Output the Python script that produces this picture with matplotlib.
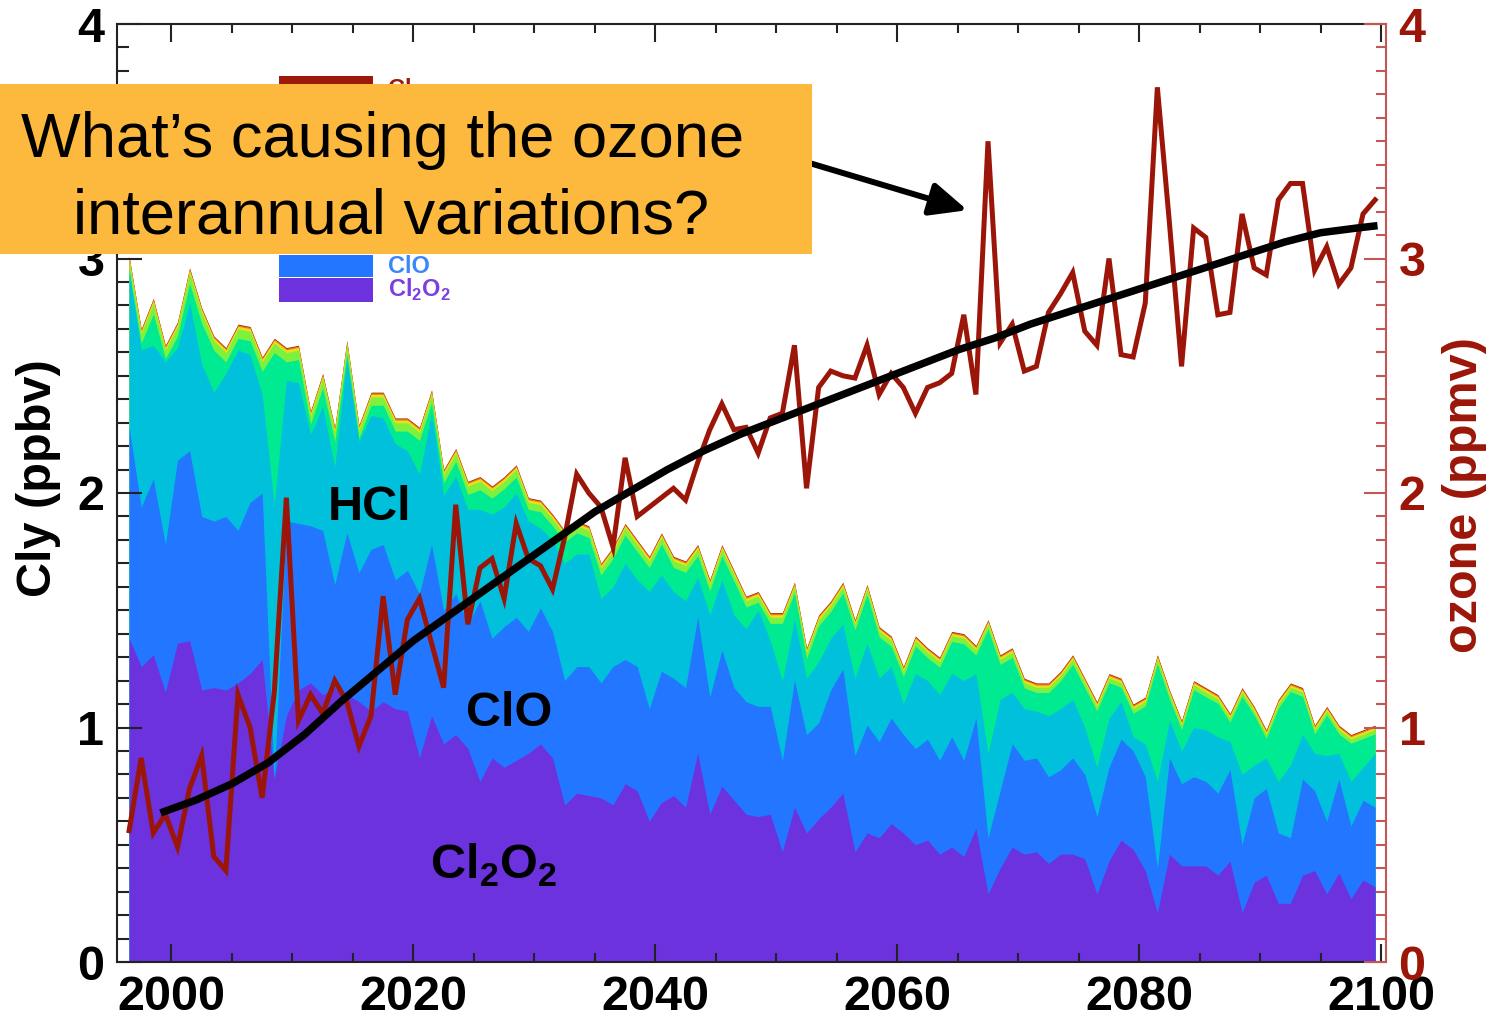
import numpy as np
import matplotlib
matplotlib.use('Agg')
import matplotlib.pyplot as plt
from matplotlib.patches import Rectangle
from matplotlib.ticker import MultipleLocator

plt.rcParams['font.family'] = ['Liberation Sans', 'DejaVu Sans']
plt.rcParams['mathtext.fontset'] = 'custom'
plt.rcParams['mathtext.rm'] = 'Liberation Sans'
plt.rcParams['mathtext.bf'] = 'Liberation Sans:bold'

# annual means, 1996.5 ... 2099.5
years = np.arange(1996.5, 2100.0, 1.0)

# ozone (ppmv)
ozone = [0.56, 0.87, 0.55, 0.63, 0.49, 0.74, 0.88, 0.45, 0.39, 1.14,
         1.00, 0.70, 1.15, 1.98, 1.03, 1.14, 1.06, 1.20, 1.11, 0.92,
         1.05, 1.56, 1.14, 1.46, 1.55, 1.36, 1.17, 1.95, 1.44, 1.68,
         1.72, 1.55, 1.87, 1.72, 1.69, 1.59, 1.81, 2.08, 2.00, 1.94,
         1.77, 2.15, 1.90, 1.94, 1.98, 2.02, 1.97, 2.13, 2.27, 2.38,
         2.27, 2.28, 2.17, 2.32, 2.34, 2.63, 2.02, 2.45, 2.52, 2.50,
         2.49, 2.63, 2.42, 2.51, 2.45, 2.34, 2.45, 2.47, 2.51, 2.76,
         2.42, 3.50, 2.64, 2.72, 2.52, 2.54, 2.77, 2.85, 2.94, 2.69,
         2.63, 3.00, 2.59, 2.58, 2.81, 3.73, 3.15, 2.54, 3.13, 3.09,
         2.76, 2.77, 3.19, 2.96, 2.93, 3.25, 3.32, 3.32, 2.95, 3.05,
         2.89, 2.96, 3.19, 3.25]

# smoothed ozone trend
trend_years = [1999.1, 2002, 2005, 2008, 2011, 2014, 2017, 2020, 2023, 2026,
               2029, 2032, 2035, 2038, 2041, 2044, 2047, 2050, 2053, 2056,
               2059, 2062, 2065, 2068, 2071, 2074, 2077, 2080, 2083, 2086,
               2089, 2092, 2095, 2098, 2099.7]
trend = [0.636, 0.69, 0.76, 0.85, 0.97, 1.11, 1.24, 1.37, 1.48, 1.59,
         1.70, 1.81, 1.92, 2.01, 2.10, 2.18, 2.25, 2.31, 2.37, 2.43,
         2.49, 2.55, 2.61, 2.66, 2.72, 2.77, 2.82, 2.87, 2.92, 2.97,
         3.02, 3.07, 3.11, 3.13, 3.14]

# cumulative Cly (ppbv): top of Cl2O2, ClO, HCl and total Cly
top_cl2o2 = [1.38, 1.26, 1.31, 1.15, 1.36, 1.37, 1.16, 1.17, 1.16, 1.19,
             1.23, 1.29, 0.78, 1.05, 1.16, 1.19, 1.14, 1.17, 1.14, 1.11,
             1.07, 1.11, 1.08, 1.07, 0.87, 1.05, 0.93, 0.97, 0.91, 0.77,
             0.87, 0.83, 0.86, 0.89, 0.93, 0.87, 0.67, 0.72, 0.71, 0.70,
             0.67, 0.76, 0.73, 0.60, 0.68, 0.71, 0.66, 0.89, 0.63, 0.75,
             0.69, 0.63, 0.62, 0.63, 0.47, 0.66, 0.55, 0.61, 0.66, 0.72,
             0.47, 0.55, 0.53, 0.59, 0.55, 0.50, 0.52, 0.46, 0.49, 0.45,
             0.57, 0.29, 0.40, 0.49, 0.46, 0.47, 0.42, 0.46, 0.46, 0.44,
             0.29, 0.43, 0.52, 0.48, 0.39, 0.21, 0.46, 0.41, 0.41, 0.41,
             0.37, 0.43, 0.21, 0.34, 0.37, 0.25, 0.25, 0.37, 0.39, 0.29,
             0.38, 0.27, 0.35, 0.32]
top_clo = [2.28, 1.94, 2.06, 1.78, 2.14, 2.18, 1.90, 1.88, 1.90, 1.84,
           1.96, 2.00, 0.78, 1.88, 1.87, 1.86, 1.84, 1.61, 1.83, 1.66,
           1.76, 1.78, 1.63, 1.67, 1.57, 1.78, 1.50, 1.57, 1.44, 1.54,
           1.38, 1.43, 1.47, 1.41, 1.51, 1.41, 1.20, 1.26, 1.26, 1.19,
           1.26, 1.29, 1.26, 1.08, 1.24, 1.21, 1.17, 1.47, 1.13, 1.33,
           1.17, 1.11, 1.09, 1.09, 0.86, 1.20, 0.97, 1.02, 1.16, 1.25,
           0.88, 1.01, 0.94, 1.04, 0.97, 0.91, 0.95, 0.86, 0.96, 0.86,
           1.04, 0.53, 0.73, 0.93, 0.86, 0.87, 0.79, 0.82, 0.87, 0.80,
           0.62, 0.83, 0.95, 0.90, 0.79, 0.40, 0.87, 0.76, 0.79, 0.77,
           0.72, 0.82, 0.50, 0.70, 0.74, 0.55, 0.53, 0.78, 0.73, 0.60,
           0.78, 0.58, 0.69, 0.66]
top_hcl = [2.94, 2.61, 2.63, 2.56, 2.62, 2.81, 2.55, 2.43, 2.51, 2.61,
           2.59, 2.42, 1.95, 2.48, 2.47, 2.25, 2.37, 2.11, 2.57, 2.22,
           2.33, 2.32, 2.21, 2.18, 2.08, 2.34, 1.99, 2.07, 1.93, 1.93,
           1.91, 1.94, 2.00, 1.88, 1.85, 1.80, 1.70, 1.74, 1.74, 1.55,
           1.60, 1.70, 1.63, 1.58, 1.65, 1.58, 1.54, 1.64, 1.48, 1.63,
           1.48, 1.42, 1.50, 1.37, 1.20, 1.46, 1.21, 1.28, 1.38, 1.44,
           1.21, 1.36, 1.21, 1.26, 1.10, 1.23, 1.20, 1.14, 1.23, 1.20,
           1.23, 0.89, 1.12, 1.15, 1.08, 1.07, 1.05, 1.08, 1.12, 1.00,
           0.83, 1.04, 1.11, 0.96, 0.93, 0.77, 1.03, 0.90, 1.00, 0.99,
           0.96, 0.94, 0.80, 0.84, 0.87, 0.77, 0.84, 0.97, 0.89, 0.88,
           0.89, 0.77, 0.83, 0.89]
cly_total = [3.01, 2.70, 2.83, 2.63, 2.73, 2.96, 2.79, 2.67, 2.62, 2.72,
             2.71, 2.58, 2.66, 2.62, 2.63, 2.35, 2.51, 2.28, 2.65, 2.29,
             2.43, 2.43, 2.32, 2.32, 2.28, 2.44, 2.10, 2.19, 2.05, 2.07,
             2.03, 2.07, 2.12, 1.98, 1.97, 1.91, 1.84, 1.88, 1.86, 1.70,
             1.77, 1.87, 1.80, 1.73, 1.83, 1.73, 1.71, 1.78, 1.63, 1.78,
             1.67, 1.56, 1.58, 1.49, 1.49, 1.62, 1.34, 1.48, 1.54, 1.62,
             1.46, 1.61, 1.43, 1.39, 1.26, 1.39, 1.34, 1.30, 1.41, 1.40,
             1.35, 1.46, 1.31, 1.34, 1.21, 1.19, 1.19, 1.24, 1.31, 1.21,
             1.11, 1.23, 1.21, 1.10, 1.13, 1.31, 1.16, 1.03, 1.20, 1.17,
             1.14, 1.06, 1.17, 1.09, 0.99, 1.12, 1.19, 1.17, 1.01, 1.09,
             1.01, 0.97, 0.99, 1.01]

# minor species (ppbv) sitting on top of ClONO2
hocl = [0.035, 0.040, 0.045, 0.035, 0.040, 0.045, 0.045, 0.040, 0.040, 0.040,
        0.040, 0.040, 0.040, 0.040, 0.040, 0.035, 0.040, 0.040, 0.035, 0.035,
        0.035, 0.035, 0.035, 0.035, 0.035, 0.035, 0.035, 0.035, 0.035, 0.035,
        0.032, 0.032, 0.032, 0.030, 0.030, 0.030, 0.030, 0.030, 0.030, 0.030,
        0.030, 0.030, 0.030, 0.028, 0.028, 0.028, 0.028, 0.028, 0.028, 0.028,
        0.026, 0.026, 0.026, 0.026, 0.026, 0.026, 0.026, 0.026, 0.026, 0.026,
        0.025, 0.025, 0.025, 0.025, 0.024, 0.024, 0.024, 0.024, 0.024, 0.024,
        0.022, 0.022, 0.022, 0.022, 0.022, 0.022, 0.022, 0.022, 0.022, 0.022,
        0.020, 0.020, 0.020, 0.020, 0.020, 0.020, 0.020, 0.020, 0.020, 0.020,
        0.018, 0.018, 0.018, 0.018, 0.018, 0.018, 0.018, 0.018, 0.018, 0.018,
        0.018, 0.018, 0.018, 0.018]
oclo = [0.012, 0.012, 0.013, 0.012, 0.012, 0.013, 0.013, 0.012, 0.012, 0.012,
        0.012, 0.012, 0.012, 0.012, 0.012, 0.012, 0.012, 0.012, 0.012, 0.012,
        0.012, 0.012, 0.012, 0.012, 0.012, 0.012, 0.012, 0.012, 0.012, 0.012,
        0.011, 0.011, 0.011, 0.011, 0.011, 0.011, 0.011, 0.011, 0.011, 0.011,
        0.011, 0.011, 0.011, 0.011, 0.011, 0.011, 0.011, 0.011, 0.011, 0.011,
        0.011, 0.011, 0.011, 0.011, 0.011, 0.011, 0.011, 0.011, 0.011, 0.011,
        0.010, 0.010, 0.010, 0.010, 0.010, 0.010, 0.010, 0.010, 0.010, 0.010,
        0.010, 0.010, 0.010, 0.010, 0.010, 0.010, 0.010, 0.010, 0.010, 0.010,
        0.010, 0.010, 0.010, 0.010, 0.010, 0.010, 0.010, 0.010, 0.010, 0.010,
        0.010, 0.010, 0.010, 0.010, 0.010, 0.010, 0.010, 0.010, 0.010, 0.010,
        0.010, 0.010, 0.010, 0.010]
cl2 = [0.006] * 104
cl = [0.003] * 104

# colours, top of the stack first
colors = ['#9b1a0a', '#ee7a10', '#e4e21e', '#7ef03e', '#00ea92',
          '#00c0dc', '#2276ff', '#6b32de']

ozone_col = '#9b1608'
red_axis = '#c45656'

total = np.array(cly_total)
levels = [total,
          total - np.array(cl),
          total - np.array(cl) - np.array(cl2),
          total - np.array(cl) - np.array(cl2) - np.array(oclo),
          total - np.array(cl) - np.array(cl2) - np.array(oclo) - np.array(hocl),
          np.array(top_hcl),
          np.array(top_clo),
          np.array(top_cl2o2)]

W, H = 1494, 1018
fig = plt.figure(figsize=(W / 100, H / 100), dpi=100)
ax = fig.add_axes([117 / W, 1 - 962 / H, (1386 - 117) / W, (962 - 24) / H])

# stack: paint each level from zero, largest first
for lev, c in zip(levels, colors):
    ax.fill_between(years, 0, lev, color=c, linewidth=0)

ax.set_xlim(1995.5, 2100.4)
ax.set_ylim(0, 4)

year_ticks = [2000, 2020, 2040, 2060, 2080, 2100]
cly_ticks = [0, 1, 2, 3, 4]
ax.set_xticks(year_ticks, labels=[str(y) for y in year_ticks],
              fontsize=35, fontweight='bold')
ax.set_yticks(cly_ticks, labels=[str(v) for v in cly_ticks],
              fontsize=35, fontweight='bold')
ax.xaxis.set_minor_locator(MultipleLocator(5))
ax.yaxis.set_minor_locator(MultipleLocator(0.1))
ax.tick_params(axis='x', which='major', direction='in', length=13, width=1.5,
               top=True, bottom=True, pad=9, color='#222222')
ax.tick_params(axis='x', which='minor', direction='in', length=6.5, width=1.5,
               top=True, bottom=True, color='#222222')
ax.tick_params(axis='y', which='major', direction='in', length=18, width=1.5,
               left=True, right=False, pad=9, color='#222222')
ax.tick_params(axis='y', which='minor', direction='in', length=8.5, width=1.5,
               left=True, right=False, color='#222222')
for s in ['left', 'top', 'bottom']:
    ax.spines[s].set_linewidth(1.5)
    ax.spines[s].set_color('#222222')
ax.spines['right'].set_visible(False)

ax.set_ylabel('Cly (ppbv)', fontsize=35, fontweight='bold')
ax.yaxis.set_label_coords(-0.0445, 0.516)

# labels on the layers
ax.text(2016.4, 1.883, 'HCl', fontsize=35, fontweight='bold',
        ha='center', va='baseline')
ax.text(2027.9, 1.007, 'ClO', fontsize=35, fontweight='bold',
        ha='center', va='baseline')
ax.text(2026.6, 0.354, 'Cl$_\\mathbf{2}$O$_\\mathbf{2}$', fontsize=35,
        fontweight='bold', ha='center', va='baseline')

# ozone on the right axis
ax2 = ax.twinx()
ax2.set_ylim(0, 4)
ax2.plot(years, ozone, color=ozone_col, lw=3.6, solid_joinstyle='miter')
ax2.plot(trend_years, trend, color='black', lw=5.4, solid_capstyle='butt',
         solid_joinstyle='round')
ax2.set_yticks(cly_ticks, labels=[str(v) for v in cly_ticks],
               fontsize=35, fontweight='bold')
ax2.yaxis.set_minor_locator(MultipleLocator(0.1))
ax2.tick_params(axis='y', which='major', direction='in', length=16, width=1.5,
                color=red_axis, labelcolor=ozone_col, pad=9)
ax2.tick_params(axis='y', which='minor', direction='in', length=7, width=1.5,
                color=red_axis)
for s in ['left', 'top', 'bottom']:
    ax2.spines[s].set_visible(False)
ax2.spines['right'].set_color(red_axis)
ax2.spines['right'].set_linewidth(1.5)
ax2.set_ylabel('ozone (ppmv)', fontsize=35, fontweight='bold', color=ozone_col)
ax2.yaxis.set_label_coords(1.0445, 0.498)

# legend boxes; the middle entries sit under the question box
leg_tops = [76, 106, 131, 156, 181, 206, 255, 278]
leg_heights = [24, 23, 23, 23, 23, 23, 22, 24]
for y0, h, c in zip(leg_tops, leg_heights, colors):
    fig.add_artist(Rectangle((279 / W, 1 - (y0 + h) / H), 94 / W, h / H,
                             transform=fig.transFigure, facecolor=c,
                             edgecolor='none', zorder=2))
fig.text(388 / W, 1 - 96 / H, 'Cl', fontsize=17, fontweight='bold',
         color='#9b1a0a', va='baseline', zorder=3)
fig.text(388 / W, 1 - 273 / H, 'ClO', fontsize=17, fontweight='bold',
         color='#3b89f8', va='baseline', zorder=3)
fig.text(388 / W, 1 - 297 / H, 'Cl$_\\mathbf{2}$O$_\\mathbf{2}$', fontsize=17,
         fontweight='bold', color='#7c3fe2', va='baseline', zorder=3)

# question box with arrow pointing at the ozone spike
fig.add_artist(Rectangle((0, 1 - 254 / H), 812 / W, 170 / H,
                         transform=fig.transFigure, facecolor='#fdb83e',
                         edgecolor='none', zorder=5))
fig.text(383 / W, 1 - 157 / H, 'What\u2019s causing the ozone', fontsize=45.5,
         ha='center', va='baseline', zorder=6)
fig.text(391 / W, 1 - 233 / H, 'interannual variations?', fontsize=45.5,
         ha='center', va='baseline', zorder=6)
ax2.annotate('', xy=(2065.8, 3.206), xycoords='data',
             xytext=(806, H - 162), textcoords='figure pixels',
             arrowprops=dict(arrowstyle='-|>,head_length=0.8,head_width=0.36',
                             color='black', lw=4.3, shrinkA=0, shrinkB=0,
                             mutation_scale=28),
             annotation_clip=False)

fig.savefig('out.png', dpi=100)
